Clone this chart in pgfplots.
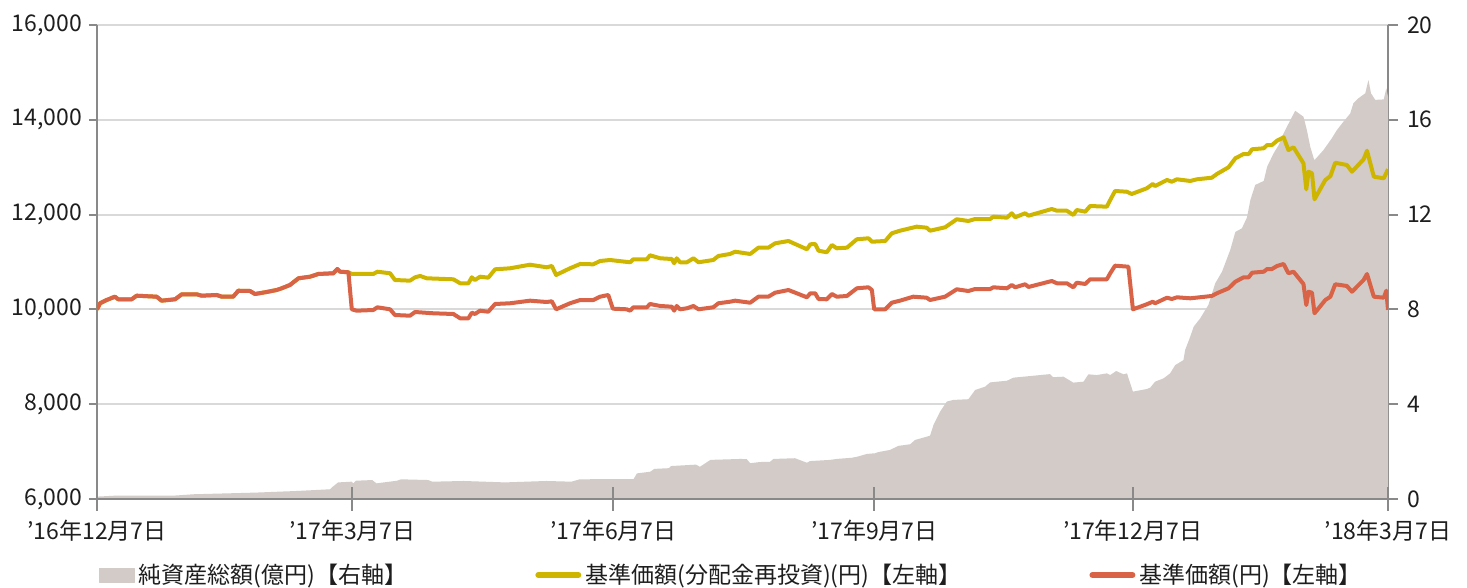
\documentclass[border=0pt]{standalone}
\usepackage{pgfplots}
\pgfplotsset{compat=1.18}
\usepackage{fontspec}
\setmainfont{Noto Sans CJK JP}
\definecolor{areacol}{RGB}{211,203,200}
\definecolor{yelcol}{RGB}{206,182,0}
\definecolor{redcol}{RGB}{216,99,70}
\definecolor{gridcol}{RGB}{217,217,217}
\definecolor{axiscol}{RGB}{137,137,137}
\definecolor{txtcol}{RGB}{30,30,30}
\pgfplotsset{
  base/.style={scale only axis, width=645.5pt, height=237pt, xmin=0, xmax=455,
    /pgf/number format/assume math mode=true,
    tick label style={font=\fontsize{11.5}{13}\selectfont, text=txtcol},
    every axis plot/.append style={line join=round}},
}
\begin{document}
\begin{tikzpicture}
% ---- area, right axis, grid ----
\begin{axis}[base, ymin=0, ymax=20, ytick={0,4,8,12,16,20},
  hide x axis, axis y line*=right,
  ymajorgrids, grid style={color=gridcol, line width=1pt},
  y axis line style={color=axiscol, line width=1pt},
  ytick style={color=axiscol, line width=1pt},
  tick align=outside, major tick length=5pt,
  yticklabel style={xshift=1pt}]
\addplot[fill=areacol, draw=none] table {
0 0.10
6.3 0.14
26.8 0.14
34.1 0.20
56.0 0.27
70.7 0.34
82.1 0.41
83.1 0.52
85.0 0.70
89.7 0.73
90.4 0.66
91.2 0.77
97.0 0.80
98.5 0.66
105.7 0.77
107.2 0.83
116.7 0.80
118.2 0.73
129.2 0.76
143.8 0.70
158.4 0.76
167.2 0.73
170.1 0.83
181.8 0.84
189.1 0.84
190.3 1.08
195.0 1.15
196.4 1.27
201.6 1.30
202.3 1.39
211.1 1.45
212.5 1.36
216.2 1.65
226.9 1.69
229.0 1.68
230.2 1.51
233.7 1.56
237.2 1.57
238.4 1.69
246.0 1.72
250.2 1.53
251.3 1.60
258.4 1.65
260.7 1.69
266.0 1.74
267.8 1.78
271.3 1.90
274.2 1.93
275.4 1.98
279.5 2.07
282.4 2.24
286.6 2.31
288.3 2.49
293.6 2.67
294.8 3.12
297.1 3.68
299.5 4.11
301.8 4.18
307.1 4.21
309.5 4.60
313.0 4.74
314.8 4.92
320.7 4.99
323.0 5.12
330.0 5.20
335.9 5.27
336.9 5.14
340.6 5.16
344.1 4.91
347.7 4.95
349.4 5.26
352.4 5.23
355.9 5.30
357.1 5.23
359.2 5.40
361.8 5.26
363.0 5.30
365.1 4.53
370.0 4.64
371.2 4.70
372.9 4.95
375.9 5.09
378.2 5.30
380.0 5.65
382.9 5.86
383.5 6.29
385.3 6.85
386.5 7.27
388.8 7.62
391.7 8.19
394.1 9.10
396.5 9.59
399.4 10.51
401.2 11.27
403.5 11.42
405.3 11.88
406.5 12.62
408.2 13.25
411.2 13.42
412.4 14.02
414.7 14.59
416.5 14.94
418.2 15.43
419.4 15.71
421.2 16.13
422.3 16.38
425.2 16.13
426.4 15.57
427.6 14.86
428.8 14.38
429.1 14.30
432.3 14.73
435.2 15.22
437.0 15.57
439.3 15.92
441.7 16.27
442.8 16.70
444.6 16.91
447.0 17.12
448.1 17.68
449.0 17.12
450.5 16.84
453.5 16.86
454.4 17.33
455 16.97
} \closedcycle;
\end{axis}
% ---- lines, left axis, legend ----
\begin{axis}[base, ymin=6000, ymax=16000, ytick={6000,8000,...,16000},
  scaled y ticks=false,
  yticklabel style={/pgf/number format/fixed, /pgf/number format/1000 sep={,}},
  hide x axis, axis y line*=left,
  y axis line style={color=axiscol, line width=1pt},
  ytick style={color=axiscol, line width=1pt},
  tick align=outside, major tick length=4pt,
  legend columns=3,
  legend style={at={(0.5,0)}, anchor=center, xshift=-5pt, yshift=-38pt,
    draw=none, fill=none, font=\fontsize{11.5}{13}\selectfont, text=txtcol,
    /tikz/every even column/.append style={column sep=62pt}},
  legend cell align=left]
\addlegendimage{legend image code/.code={\fill[areacol] (0pt,-3.5pt) rectangle (17.5pt,3.5pt);}}
\addlegendentry{純資産総額(億円)【右軸】}
\addplot[yelcol, line width=2pt, legend image code/.code={\draw[yelcol,line width=3pt,line cap=round] (0pt,0pt) -- (20pt,0pt);}] table {
0 10000
1.1 10129
3.4 10198
6.3 10268
7.5 10213
12.2 10213
14.0 10289
21.0 10268
22.8 10184
27.5 10213
29.9 10319
35.1 10319
36.9 10289
42.2 10304
44.0 10268
48.0 10268
49.8 10394
53.9 10388
55.7 10325
59.8 10367
63.3 10409
65.1 10445
68.0 10515
71.0 10656
75.1 10690
78.0 10747
83.3 10762
84.7 10852
85.7 10795
88.6 10783
89.8 10747
97.4 10747
98.8 10795
103.3 10762
105.0 10620
110.3 10606
112.1 10677
113.9 10705
116.2 10656
125.6 10635
128.0 10551
130.9 10551
132.1 10677
133.2 10620
135.0 10690
137.9 10669
140.3 10846
145.6 10867
152.6 10943
158.5 10888
160.3 10916
161.8 10726
166.7 10867
170.3 10958
174.9 10951
177.3 11021
180.8 11042
187.9 10994
189.0 11057
193.8 11057
194.9 11141
198.5 11078
202.6 11063
203.4 10973
204.3 11078
205.5 10994
207.9 10994
210.2 11078
212.0 10994
217.2 11042
219.0 11127
223.1 11169
224.9 11217
230.2 11169
233.1 11302
236.6 11302
239.0 11394
243.7 11443
250.2 11268
251.4 11373
253.1 11380
254.3 11238
257.2 11205
259.0 11359
260.7 11289
264.3 11302
267.8 11479
271.9 11500
273.1 11428
277.8 11443
280.1 11605
283.0 11660
288.9 11745
292.4 11724
293.6 11660
298.9 11732
303.0 11901
307.1 11865
309.5 11907
314.8 11907
315.9 11956
320.7 11935
322.4 12028
323.6 11943
327.1 12028
328.3 11977
336.5 12118
338.3 12082
341.8 12082
344.1 11992
345.3 12097
348.3 12061
350.0 12181
355.9 12167
357.1 12308
358.8 12498
362.9 12483
364.7 12435
370.0 12555
372.1 12646
372.9 12603
377.1 12730
378.8 12694
380.6 12745
385.3 12709
387.7 12745
392.9 12778
394.7 12857
398.8 12998
401.2 13188
404.1 13278
405.9 13278
407.1 13378
411.2 13399
412.4 13468
414.1 13468
415.9 13559
418.2 13631
419.9 13363
421.7 13420
425.2 13082
426.2 12534
427.0 12905
428.2 12871
429.1 12323
432.9 12730
434.7 12814
436.4 13095
440.5 13046
442.3 12905
446.4 13167
447.6 13348
450.0 12800
453.5 12766
455 12956
};
\addlegendentry{基準価額(分配金再投資)(円)【左軸】}
\addplot[redcol, line width=2pt, legend image code/.code={\draw[redcol,line width=3pt,line cap=round] (0pt,0pt) -- (20pt,0pt);}] table {
0 10000
1.1 10129
3.4 10198
6.3 10268
7.5 10213
12.2 10213
14.0 10289
21.0 10268
22.8 10184
27.5 10213
29.9 10319
35.1 10319
36.9 10289
42.2 10304
44.0 10268
48.0 10268
49.8 10394
53.9 10388
55.7 10325
59.8 10367
63.3 10409
65.1 10445
68.0 10515
71.0 10656
75.1 10690
78.0 10747
83.3 10762
84.7 10852
85.7 10795
88.6 10783
89.8 10002
91.5 9973
97.4 9987
98.8 10044
103.3 10002
105.0 9882
110.3 9867
112.1 9945
118.5 9918
125.6 9903
128.0 9812
130.9 9812
132.1 9930
133.2 9903
135.0 9973
137.9 9951
140.3 10114
145.6 10129
152.6 10184
158.5 10156
160.3 10171
161.8 10002
166.7 10129
170.3 10198
174.9 10198
177.3 10268
180.2 10304
181.8 10015
186.7 10002
187.9 9973
189.0 10044
193.8 10044
194.9 10114
198.5 10072
202.6 10057
203.4 9973
204.3 10072
205.5 10002
207.9 10023
210.2 10072
212.0 10002
217.2 10044
219.0 10129
223.1 10162
224.9 10184
230.2 10141
233.1 10268
236.6 10268
239.0 10352
243.7 10409
250.2 10255
251.4 10340
253.1 10340
254.3 10219
257.2 10213
259.0 10325
260.7 10268
264.3 10283
267.8 10445
271.9 10466
273.1 10409
273.9 10002
277.8 10002
280.1 10141
283.0 10184
287.7 10268
292.4 10247
293.6 10198
298.9 10268
303.0 10424
307.1 10388
309.5 10430
314.8 10430
315.9 10466
320.7 10445
322.4 10515
323.6 10466
327.1 10530
328.3 10473
336.5 10599
338.3 10551
341.8 10551
344.1 10466
345.3 10563
348.3 10536
350.0 10635
355.9 10635
357.1 10762
358.8 10922
363.5 10901
365.1 10002
370.0 10108
372.1 10162
372.9 10129
377.1 10247
378.8 10219
380.6 10255
385.3 10234
392.9 10283
394.7 10340
398.8 10445
401.2 10584
404.1 10677
405.9 10677
407.1 10774
411.2 10795
412.4 10852
414.1 10852
415.9 10916
418.2 10958
419.9 10762
421.7 10795
425.2 10536
426.2 10093
427.0 10373
428.2 10352
429.1 9918
432.9 10198
434.7 10268
436.4 10530
440.5 10494
442.3 10373
446.4 10620
447.6 10747
450.0 10268
453.5 10247
454.4 10394
455 9990
};
\addlegendentry{基準価額(円)【左軸】}
\end{axis}
% ---- x axis only ----
\begin{axis}[base, ymin=0, ymax=1, hide y axis, axis x line*=bottom,
  x axis line style={color=axiscol, line width=1pt},
  xtick={0,90,182,274,365,455},
  xticklabels={’16年12月7日,’17年3月7日,’17年6月7日,’17年9月7日,’17年12月7日,’18年3月7日},
  xtick style={color=axiscol, line width=1pt},
  tick align=center, major tick length=12pt,
  xticklabel style={yshift=-1pt}]
\coordinate (ll) at (rel axis cs:0,0);
\coordinate (ur) at (rel axis cs:1,1);
\end{axis}
\pgfresetboundingbox
\path ([shift={(-48.5pt,-44.5pt)}]ll) rectangle ([shift={(39.5pt,12.5pt)}]ur);
\end{tikzpicture}
\end{document}
